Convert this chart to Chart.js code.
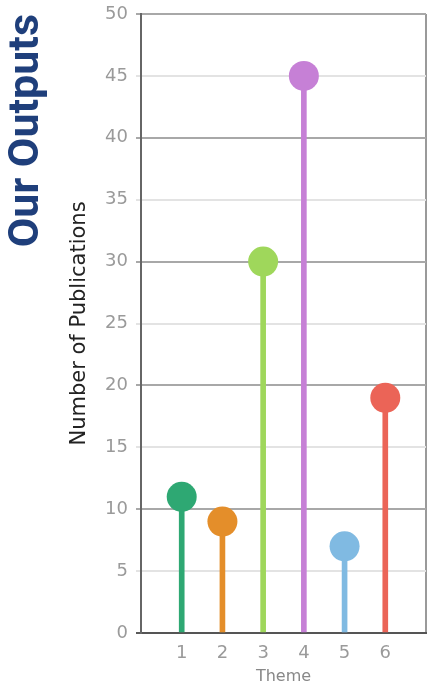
<!DOCTYPE html>
<html>
<head>
<meta charset="utf-8">
<title>Our Outputs</title>
<script src="https://cdn.jsdelivr.net/npm/chart.js@4.4.0/dist/chart.umd.min.js"></script>
<style>
  html, body { margin: 0; padding: 0; background: #fff; }
  canvas { display: block; }
</style>
</head>
<body>
<canvas id="outputsChart" width="427" height="686"></canvas>
<script>
// data
const themes = [1, 2, 3, 4, 5, 6];
const publications = [11, 9, 30, 45, 7, 19];
const themeColors = ['#2ea873', '#e48e2a', '#9fd75b', '#c680d6', '#80bae2', '#eb6457'];
const yTickStep = 5;
const yMax = 50;

const points = themes.map((t, i) => ({ x: t, y: publications[i] }));

// y grid: every 10 darker, every 5 lighter
function yGridColor(ctx) {
    const v = ctx.tick ? ctx.tick.value : 0;
    if (v === 0) return '#5a5a5a';
    return v % 10 === 0 ? '#a8a8a8' : '#e3e3e3';
}

const chart = new Chart(document.getElementById('outputsChart'), {
    type: 'bar',
    data: {
        datasets: [
            {
                type: 'scatter',
                data: points,
                pointRadius: 15,
                pointHoverRadius: 15,
                pointBackgroundColor: themeColors,
                pointBorderWidth: 0,
                order: 1
            },
            {
                type: 'bar',
                data: points,
                backgroundColor: themeColors,
                barThickness: 5,
                order: 2
            }
        ]
    },
    options: {
        responsive: false,
        animation: false,
        layout: { autoPadding: false, padding: { top: 14, right: 1, left: 0, bottom: 0 } },
        plugins: {
            legend: { display: false },
            tooltip: { enabled: false },
            title: {
                display: true,
                text: 'Our Outputs',
                position: 'left',
                align: 'end',
                fullSize: false,
                color: '#1f3f7b',
                font: { family: 'Roboto', size: 43, weight: 'bold' },
                padding: { top: 1, bottom: 0 }
            }
        },
        scales: {
            x: {
                type: 'linear',
                min: 0,
                max: themes.length + 1,
                offset: false,
                afterFit: scale => {
                    scale.height = 53;
                    scale.paddingLeft = 0;
                    scale.paddingRight = 0;
                },
                ticks: {
                    stepSize: 1,
                    padding: 10,
                    color: '#9a9a9a',
                    font: { family: 'DejaVu Sans', size: 18 },
                    callback: v => (v >= 1 && v <= themes.length ? String(v) : '')
                },
                grid: {
                    offset: false,
                    drawTicks: false,
                    lineWidth: 2,
                    color: ctx => (ctx.tick && ctx.tick.value === themes.length + 1 ? '#9a9a9a' : 'rgba(0,0,0,0)')
                },
                border: { color: '#555', width: 2 },
                title: {
                    display: true,
                    text: 'Theme',
                    color: '#888',
                    font: { family: 'DejaVu Sans', size: 16 },
                    padding: { top: 0, bottom: 0 }
                }
            },
            y: {
                min: 0,
                max: yMax,
                afterFit: scale => {
                    scale.width = 141 - 52.6;
                    scale.paddingTop = 0;
                    scale.paddingBottom = 0;
                },
                ticks: {
                    stepSize: yTickStep,
                    padding: 8,
                    color: '#9a9a9a',
                    font: { family: 'DejaVu Sans', size: 18 }
                },
                grid: {
                    lineWidth: 2,
                    tickLength: 5,
                    color: yGridColor
                },
                border: { color: '#666', width: 2 },
                title: {
                    display: true,
                    text: 'Number of Publications',
                    color: '#222',
                    font: { family: 'DejaVu Sans', size: 21 },
                    padding: { top: 14, bottom: 0 }
                }
            }
        }
    }
});
</script>
</body>
</html>
